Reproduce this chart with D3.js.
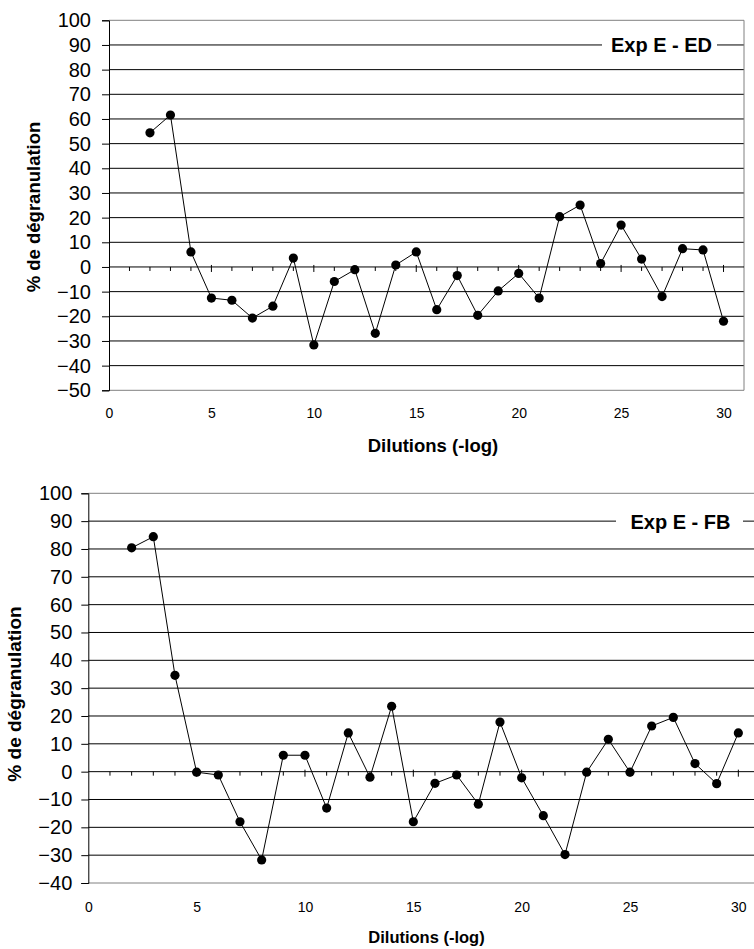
<!DOCTYPE html>
<html>
<head>
<meta charset="utf-8">
<script src="https://cdn.jsdelivr.net/npm/d3@7"></script>
<style>
  html, body { margin: 0; padding: 0; background: #fff; }
  svg { display: block; font-family: "Liberation Sans", Arial, sans-serif; }
</style>
</head>
<body>
<svg id="chart" width="754" height="949"></svg>
<script>
// ---------- DATA ----------
const dilutions = [2,3,4,5,6,7,8,9,10,11,12,13,14,15,16,17,18,19,20,21,22,23,24,25,26,27,28,29,30];
const edValues = [54.4, 61.6, 6.1, -12.6, -13.5, -20.7, -15.9, 3.6, -31.6, -5.9, -1.1, -26.9, 0.8, 6.1,
                  -17.3, -3.5, -19.6, -9.7, -2.6, -12.6, 20.4, 25.1, 1.4, 17.0, 3.2, -12.0, 7.4, 6.9, -22.0];
const fbValues = [80.4, 84.4, 34.6, -0.2, -1.2, -18.0, -31.7, 5.9, 5.9, -13.1, 13.9, -2.0, 23.5, -18.0,
                  -4.2, -1.2, -11.7, 17.8, -2.2, -15.8, -29.8, -0.2, 11.6, -0.2, 16.4, 19.5, 2.9, -4.3, 13.9];
const xTickLabels = [0, 5, 10, 15, 20, 25, 30];
const edYTicks = [-50, -40, -30, -20, -10, 0, 10, 20, 30, 40, 50, 60, 70, 80, 90, 100];
const fbYTicks = [-40, -30, -20, -10, 0, 10, 20, 30, 40, 50, 60, 70, 80, 90, 100];
const seriesLabels = ["Exp E - ED", "Exp E - FB"];
const xTitle = "Dilutions (-log)";
const yTitle = "% de dégranulation";

const svg = d3.select("#chart");

function drawChart(cfg) {
  const g = svg.append("g");
  const x = d3.scaleLinear().domain([0, 31]).range([cfg.left, cfg.right]);
  const y = d3.scaleLinear().domain([cfg.yTicks[0], cfg.yTicks[cfg.yTicks.length - 1]]).range([cfg.bottom, cfg.top]);
  const yMin = y.domain()[0], yMax = y.domain()[1];

  // gridlines
  g.append("g").selectAll("line")
    .data(cfg.yTicks.filter(v => v !== yMin && v !== yMax && v !== 0))
    .join("line")
    .attr("x1", cfg.left).attr("x2", cfg.right)
    .attr("y1", d => y(d)).attr("y2", d => y(d))
    .attr("stroke", "#000").attr("stroke-width", 1);

  // plot border (gray)
  g.append("path")
    .attr("d", `M${cfg.left},${y(yMax)}H${cfg.right}V${y(yMin)}H${cfg.left}`)
    .attr("fill", "none").attr("stroke", "#808080").attr("stroke-width", 1);

  // y axis
  const yAxis = d3.axisLeft(y).tickValues(cfg.yTicks).tickSize(7).tickPadding(cfg.yPad).tickFormat(d3.format("d"));
  const ya = g.append("g").attr("transform", `translate(${cfg.left},0)`).call(yAxis);
  ya.select(".domain").attr("stroke", "#000");
  ya.selectAll(".tick line").attr("stroke", "#000");
  ya.selectAll(".tick text")
    .attr("fill", "#000")
    .style("font-size", "20px")
    .style("font-family", "'Liberation Sans', Arial, sans-serif");

  // x axis line at zero with minor/major ticks
  g.append("line")
    .attr("x1", cfg.left).attr("x2", cfg.right)
    .attr("y1", y(0)).attr("y2", y(0))
    .attr("stroke", "#000");
  const tickVals = d3.range(1, 31);
  g.append("g").selectAll("line")
    .data(tickVals)
    .join("line")
    .attr("x1", d => x(d)).attr("x2", d => x(d))
    .attr("y1", d => y(0) - (d % 5 === 0 ? 2 : 0))
    .attr("y2", d => y(0) + (d % 5 === 0 ? 5 : 4))
    .attr("stroke", "#000");

  // x tick labels at the bottom
  const xAxis = d3.axisBottom(x).tickValues(xTickLabels).tickSize(0).tickPadding(0).tickFormat(d3.format("d"));
  const xa = g.append("g").attr("transform", `translate(0,${cfg.xLabelY})`).call(xAxis);
  xa.select(".domain").remove();
  xa.selectAll(".tick text")
    .attr("fill", "#000")
    .attr("dy", "0")
    .attr("y", 0)
    .style("font-size", "14px")
    .style("font-family", "'Liberation Sans', Arial, sans-serif");

  // line + markers
  const pts = dilutions.map((d, i) => [d, cfg.values[i]]);
  g.append("path")
    .datum(pts)
    .attr("d", d3.line().x(d => x(d[0])).y(d => y(d[1])))
    .attr("fill", "none").attr("stroke", "#000").attr("stroke-width", 1);
  g.append("g").selectAll("circle")
    .data(pts)
    .join("circle")
    .attr("cx", d => x(d[0])).attr("cy", d => y(d[1]))
    .attr("r", 4.6).attr("fill", "#000");

  // series label with white background over the 90 line
  const ly = y(90);
  g.append("rect")
    .attr("x", cfg.labelBoxX0).attr("width", cfg.labelBoxX1 - cfg.labelBoxX0)
    .attr("y", ly - 10).attr("height", 20)
    .attr("fill", "#fff");
  g.append("text")
    .attr("x", cfg.labelX).attr("y", ly + 7.5)
    .attr("text-anchor", "middle")
    .style("font-size", "20px").style("font-weight", "bold")
    .text(cfg.label);

  // axis titles
  g.append("text")
    .attr("x", cfg.xTitleX).attr("y", cfg.xTitleY)
    .attr("text-anchor", "middle")
    .style("font-size", cfg.xTitleSize + "px").style("font-weight", "bold")
    .text(xTitle);
  g.append("text")
    .attr("transform", `translate(${cfg.yTitleX},${cfg.yTitleY}) rotate(-90)`)
    .attr("text-anchor", "middle")
    .style("font-size", cfg.yTitleSize + "px").style("font-weight", "bold")
    .text(yTitle);
}

drawChart({
  values: edValues, yTicks: edYTicks, label: seriesLabels[0],
  left: 109, right: 744, top: 20.3, bottom: 390.3,
  yPad: 11, xLabelY: 418,
  labelX: 661.5, labelBoxX0: 602, labelBoxX1: 717,
  xTitleX: 433, xTitleY: 451.5, xTitleSize: 18.5,
  yTitleX: 40, yTitleY: 207, yTitleSize: 18.5
});

drawChart({
  values: fbValues, yTicks: fbYTicks, label: seriesLabels[1],
  left: 88.3, right: 760, top: 493.3, bottom: 883,
  yPad: 9, xLabelY: 912,
  labelX: 680.5, labelBoxX0: 616, labelBoxX1: 743,
  xTitleX: 426.5, xTitleY: 943.3, xTitleSize: 16.5,
  yTitleX: 20.5, yTitleY: 694, yTitleSize: 19
});
</script>
</body>
</html>
